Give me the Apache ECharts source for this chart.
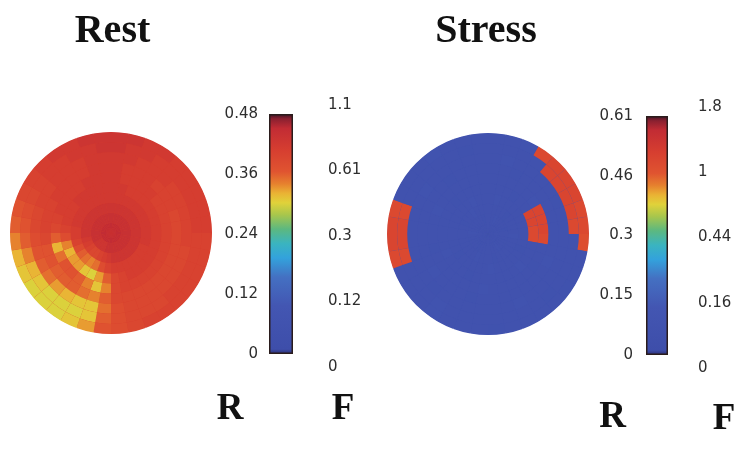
<!DOCTYPE html>
<html><head><meta charset="utf-8">
<script src="https://cdn.jsdelivr.net/npm/echarts@6/dist/echarts.min.js"></script>
<style>html,body{margin:0;padding:0;background:#fff}#c{width:750px;height:465px}</style>
</head><body><div id="c"></div>
<script>
// ---- texts ----
const titles = ['Rest', 'Stress'];
const scaleLetters = ['R', 'F'];
// ---- colour-scale tick labels ----
const restRTicks = ['0', '0.12', '0.24', '0.36', '0.48'];
const restFTicks = ['0', '0.12', '0.3', '0.61', '1.1'];
const stressRTicks = ['0', '0.15', '0.3', '0.46', '0.61'];
const stressFTicks = ['0', '0.16', '0.44', '1', '1.8'];
const restMax = 0.48;
const stressMax = 0.61;

// ---- polar maps: ring0 = centre ... ring9 = rim; 36 sectors of 10 deg, clockwise from 12 o'clock ----
const rest_ring0 = [.45,.45,.45,.45,.45,.45,.45,.45,.45,.45,.45,.45,.45,.45,.45,.45,.45,.45,.45,.45,.45,.45,.45,.45,.45,.45,.45,.45,.45,.45,.45,.45,.45,.45,.45,.45];
const rest_ring1 = [.44,.44,.44,.44,.44,.44,.44,.44,.44,.44,.44,.44,.44,.44,.44,.44,.44,.44,.44,.44,.43,.43,.43,.43,.44,.44,.44,.44,.44,.44,.44,.44,.44,.44,.44,.44];
const rest_ring2 = [.43,.43,.43,.43,.43,.43,.43,.43,.43,.43,.43,.43,.43,.43,.43,.43,.43,.43,.42,.41,.40,.39,.39,.40,.41,.42,.43,.43,.43,.43,.43,.43,.43,.43,.43,.43];
const rest_ring3 = [.42,.42,.42,.42,.42,.42,.42,.42,.42,.42,.42,.41,.41,.41,.41,.41,.41,.41,.40,.38,.35,.34,.35,.36,.38,.40,.41,.41,.42,.42,.42,.42,.42,.42,.42,.42];
const rest_ring4 = [.42,.42,.41,.41,.41,.41,.41,.41,.41,.41,.41,.41,.41,.41,.41,.41,.40,.39,.36,.33,.30,.31,.33,.33,.32,.34,.38,.40,.41,.41,.41,.42,.42,.42,.42,.42];
const rest_ring5 = [.42,.41,.41,.41,.41,.40,.40,.40,.40,.40,.40,.40,.40,.40,.40,.40,.40,.39,.34,.31,.34,.36,.37,.37,.35,.32,.36,.39,.40,.41,.41,.41,.41,.42,.42,.42];
const rest_ring6 = [.42,.41,.41,.41,.40,.40,.40,.39,.39,.39,.39,.39,.39,.39,.39,.39,.39,.39,.36,.34,.35,.36,.36,.36,.37,.37,.39,.40,.40,.40,.41,.41,.41,.41,.42,.42];
const rest_ring7 = [.42,.42,.41,.41,.41,.40,.40,.40,.40,.40,.39,.39,.39,.39,.39,.39,.39,.38,.35,.31,.31,.32,.33,.35,.36,.37,.38,.39,.39,.40,.40,.41,.41,.41,.42,.42];
const rest_ring8 = [.43,.42,.42,.41,.41,.41,.41,.41,.41,.40,.40,.40,.40,.40,.39,.39,.39,.38,.36,.31,.30,.30,.30,.31,.32,.34,.36,.37,.38,.39,.40,.41,.41,.42,.42,.43];
const rest_ring9 = [.43,.43,.42,.42,.41,.41,.41,.41,.41,.40,.40,.40,.40,.40,.40,.40,.39,.38,.37,.33,.31,.30,.30,.30,.31,.32,.34,.36,.37,.39,.40,.41,.42,.42,.43,.43];

const stress_ring0 = [.07,.07,.07,.07,.07,.07,.07,.07,.07,.07,.07,.07,.07,.07,.07,.07,.07,.07,.07,.07,.07,.07,.07,.07,.07,.07,.07,.07,.07,.07,.07,.07,.07,.07,.07,.07];
const stress_ring1 = [.07,.07,.08,.07,.07,.07,.07,.06,.07,.07,.07,.07,.07,.07,.08,.07,.07,.07,.07,.07,.07,.06,.07,.07,.07,.07,.07,.08,.07,.07,.07,.07,.07,.07,.06,.07];
const stress_ring2 = [.07,.07,.07,.07,.06,.07,.07,.07,.07,.08,.07,.07,.07,.07,.07,.07,.06,.07,.07,.07,.08,.07,.07,.07,.07,.07,.07,.07,.07,.06,.07,.07,.08,.07,.07,.07];
const stress_ring3 = [.07,.08,.07,.07,.07,.07,.07,.07,.07,.07,.07,.06,.07,.07,.07,.07,.07,.08,.07,.07,.07,.07,.07,.06,.07,.07,.07,.07,.07,.07,.07,.07,.07,.08,.07,.07];
const stress_ring4 = [.07,.07,.07,.06,.07,.07,.50,.50,.49,.49,.07,.07,.07,.08,.07,.07,.07,.07,.07,.07,.06,.07,.07,.07,.08,.07,.07,.07,.07,.07,.07,.06,.07,.07,.07,.07];
const stress_ring5 = [.07,.07,.07,.07,.07,.08,.50,.50,.50,.49,.07,.07,.06,.07,.07,.07,.07,.07,.08,.07,.07,.07,.07,.07,.07,.06,.07,.07,.07,.08,.07,.07,.07,.07,.07,.07];
const stress_ring6 = [.07,.07,.06,.07,.07,.07,.07,.07,.07,.07,.07,.08,.07,.07,.07,.07,.07,.07,.07,.06,.07,.07,.07,.08,.07,.07,.07,.07,.07,.07,.07,.07,.06,.07,.07,.07];
const stress_ring7 = [.07,.08,.07,.07,.07,.07,.06,.07,.07,.07,.07,.07,.07,.07,.07,.08,.07,.07,.07,.07,.07,.07,.06,.07,.07,.07,.07,.07,.07,.07,.08,.07,.07,.07,.07,.07];
const stress_ring8 = [.07,.07,.07,.07,.50,.50,.50,.50,.49,.07,.07,.07,.07,.06,.07,.07,.07,.07,.07,.07,.07,.08,.07,.07,.07,.49,.50,.50,.49,.07,.07,.07,.07,.07,.06,.07];
const stress_ring9 = [.07,.07,.08,.49,.50,.50,.50,.49,.49,.48,.07,.07,.06,.07,.07,.07,.07,.06,.07,.07,.07,.08,.07,.07,.07,.49,.50,.50,.49,.07,.07,.07,.08,.07,.07,.07];

const restRings = [rest_ring0, rest_ring1, rest_ring2, rest_ring3, rest_ring4, rest_ring5, rest_ring6, rest_ring7, rest_ring8, rest_ring9];
const stressRings = [stress_ring0, stress_ring1, stress_ring2, stress_ring3, stress_ring4, stress_ring5, stress_ring6, stress_ring7, stress_ring8, stress_ring9];

// ---- colour map (jet-like, as in the colour bars) ----
const cmapStops = [
  [0.00, '#2a2c70'], [0.02, '#3e4eaa'], [0.20, '#4356b2'], [0.32, '#4470c2'],
  [0.40, '#33a2dc'], [0.46, '#3ab4c0'], [0.52, '#5cb880'], [0.58, '#a8c64c'],
  [0.63, '#e0d23a'], [0.67, '#eab234'], [0.71, '#e6802e'], [0.76, '#e05430'],
  [0.85, '#d63e30'], [0.94, '#c22c34'], [0.98, '#8a2030'], [1.00, '#3a1424']
];
function hexRgb(h) { return [1, 3, 5].map(i => parseInt(h.slice(i, i + 2), 16)); }
function colorAt(f) {
  for (let i = 1; i < cmapStops.length; i++) {
    if (f <= cmapStops[i][0]) {
      const [f0, c0] = cmapStops[i - 1], [f1, c1] = cmapStops[i];
      const t = (f - f0) / (f1 - f0), a = hexRgb(c0), b = hexRgb(c1);
      return 'rgb(' + a.map((v, j) => Math.round(v + (b[j] - v) * t)).join(',') + ')';
    }
  }
  return cmapStops[cmapStops.length - 1][1];
}
const palette = Array.from({ length: 101 }, (_, i) => colorAt(i / 100));
const barGradient = {
  type: 'linear', x: 0, y: 0, x2: 0, y2: 1,
  colorStops: cmapStops.slice().reverse().map(([f, c]) => ({ offset: 1 - f, color: c }))
};

const labelFont = { fontFamily: 'DejaVu Sans', fontSize: 15, color: '#2e2e2e' };
const serifBold = (size) => 'bold ' + size + 'px "Liberation Serif"';

function ringSeries(rings, polarIndex, stack) {
  return rings.map((vals, i) => ({
    type: 'bar', coordinateSystem: 'polar', polarIndex: polarIndex, stack: stack,
    barCategoryGap: '0%', silent: true,
    data: vals.map((v, k) => [1, k, v])
  }));
}
const hiddenAxis = { axisLine: { show: false }, axisTick: { show: false }, axisLabel: { show: false }, splitLine: { show: false } };
const sectorNames = Array.from({ length: 36 }, (_, k) => 's' + k);

const series = [].concat(
  ringSeries(restRings, 0, 'rest'),
  ringSeries(stressRings, 1, 'stress'),
  [
    { type: 'bar', xAxisIndex: 0, yAxisIndex: 0, barWidth: '100%', silent: true, data: [restMax],
      itemStyle: { color: barGradient, borderColor: '#2a1c1c', borderWidth: 1.5 } },
    { type: 'bar', xAxisIndex: 2, yAxisIndex: 3, barWidth: '100%', silent: true, data: [stressMax],
      itemStyle: { color: barGradient, borderColor: '#2a1c1c', borderWidth: 1.5 } }
  ]
);

const chart = echarts.init(document.getElementById('c'), null, { renderer: 'canvas' });
chart.setOption({
  backgroundColor: '#ffffff',
  animation: false,
  polar: [
    { center: [111, 233], radius: [0, 101] },
    { center: [488, 234], radius: [0, 101] }
  ],
  angleAxis: [
    Object.assign({ polarIndex: 0, type: 'category', data: sectorNames, startAngle: 90, clockwise: true, boundaryGap: true }, hiddenAxis),
    Object.assign({ polarIndex: 1, type: 'category', data: sectorNames, startAngle: 90, clockwise: true, boundaryGap: true }, hiddenAxis)
  ],
  radiusAxis: [
    Object.assign({ polarIndex: 0, type: 'value', min: 0, max: 10 }, hiddenAxis),
    Object.assign({ polarIndex: 1, type: 'value', min: 0, max: 10 }, hiddenAxis)
  ],
  visualMap: [
    { type: 'continuous', show: false, min: 0, max: restMax, dimension: 2, seriesIndex: [0,1,2,3,4,5,6,7,8,9], inRange: { color: palette } },
    { type: 'continuous', show: false, min: 0, max: stressMax, dimension: 2, seriesIndex: [10,11,12,13,14,15,16,17,18,19], inRange: { color: palette } }
  ],
  grid: [
    { left: 269, top: 114, width: 24, height: 240 },
    { left: 269, top: 105, width: 24, height: 262 },
    { left: 646, top: 116, width: 22, height: 239 },
    { left: 646, top: 107, width: 22, height: 261 }
  ],
  xAxis: [0, 1, 2, 3].map(g => ({ gridIndex: g, type: 'category', data: [''], show: false })),
  yAxis: [
    { gridIndex: 0, type: 'value', min: 0, max: restMax, show: false, position: 'right' },
    { gridIndex: 0, type: 'category', data: restRTicks, boundaryGap: false, position: 'left',
      axisLine: { show: false }, axisTick: { show: false }, splitLine: { show: false },
      axisLabel: Object.assign({ margin: 11 }, labelFont) },
    { gridIndex: 1, type: 'category', data: restFTicks, boundaryGap: false, position: 'right',
      axisLine: { show: false }, axisTick: { show: false }, splitLine: { show: false },
      axisLabel: Object.assign({ margin: 35 }, labelFont) },
    { gridIndex: 2, type: 'value', min: 0, max: stressMax, show: false, position: 'right' },
    { gridIndex: 2, type: 'category', data: stressRTicks, boundaryGap: false, position: 'left',
      axisLine: { show: false }, axisTick: { show: false }, splitLine: { show: false },
      axisLabel: Object.assign({ margin: 13 }, labelFont) },
    { gridIndex: 3, type: 'category', data: stressFTicks, boundaryGap: false, position: 'right',
      axisLine: { show: false }, axisTick: { show: false }, splitLine: { show: false },
      axisLabel: Object.assign({ margin: 30 }, labelFont) }
  ],
  graphic: [
    { type: 'circle', z: 0, silent: true, shape: { cx: 111, cy: 233, r: 100.5 }, style: { fill: '#d63e30' } },
    { type: 'circle', z: 0, silent: true, shape: { cx: 488, cy: 234, r: 100.5 }, style: { fill: '#4254ae' } },
    { type: 'text', x: 112.5, y: 32, style: { text: titles[0], font: serifBold(40), fill: '#111', textAlign: 'center', textVerticalAlign: 'middle' } },
    { type: 'text', x: 486, y: 32, style: { text: titles[1], font: serifBold(40), fill: '#111', textAlign: 'center', textVerticalAlign: 'middle' } },
    { type: 'text', x: 230, y: 409, style: { text: scaleLetters[0], font: serifBold(37), fill: '#111', textAlign: 'center', textVerticalAlign: 'middle' } },
    { type: 'text', x: 343, y: 409, style: { text: scaleLetters[1], font: serifBold(37), fill: '#111', textAlign: 'center', textVerticalAlign: 'middle' } },
    { type: 'text', x: 612.5, y: 417, style: { text: scaleLetters[0], font: serifBold(37), fill: '#111', textAlign: 'center', textVerticalAlign: 'middle' } },
    { type: 'text', x: 724, y: 419, style: { text: scaleLetters[1], font: serifBold(37), fill: '#111', textAlign: 'center', textVerticalAlign: 'middle' } }
  ],
  series: series
});
</script></body></html>
